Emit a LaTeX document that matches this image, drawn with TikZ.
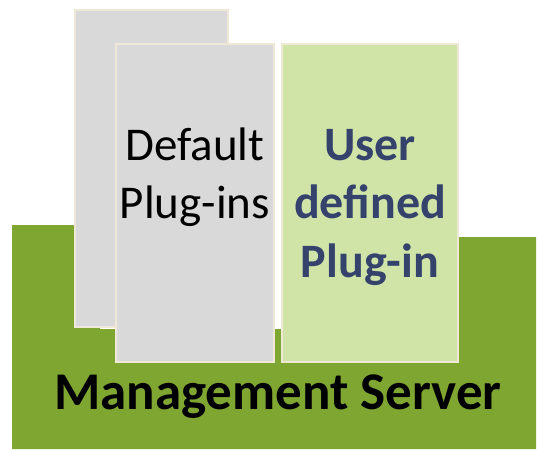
\documentclass[tikz,border=0pt]{standalone}
\usepackage{fontspec}
\setmainfont{Carlito}
\definecolor{serverg}{RGB}{128,166,50}
\definecolor{plugg}{RGB}{208,228,168}
\definecolor{defg}{RGB}{217,217,217}
\definecolor{edgec}{RGB}{238,232,214}
\definecolor{navy}{RGB}{52,66,108}
\begin{document}
\begin{tikzpicture}[x=1pt,y=-1pt,
  panel/.style={draw=edgec,line width=1.5pt},
  label/.style={align=center,inner sep=0pt}]
\useasboundingbox (0,0) rectangle (537,449);
% server base
\fill[serverg] (12,225) -- (100,225) -- (100,329) -- (420,329) -- (420,237)
  -- (536,237) -- (536,449) -- (12,449) -- cycle;
% plug-in panels
\draw[panel,fill=defg] (75,10) rectangle (228,327);
\draw[panel,fill=defg] (116,44) rectangle (274,362);
\draw[panel,fill=plugg] (282,44) rectangle (458,362);
% labels, anchored on the baseline of their last line
\node[label,font=\fontsize{47}{58}\selectfont,anchor=base] (def) at (195,218)
  {Default\\Plug-ins};
\node[label,font=\fontsize{48}{58.5}\selectfont\bfseries,text=navy,anchor=base] (usr) at (370,277)
  {User\\defined\\Plug-in};
\node[label,font=\fontsize{53}{60}\selectfont\bfseries,anchor=base] (srv) at (278,409)
  {Management Server};
\end{tikzpicture}
\end{document}
